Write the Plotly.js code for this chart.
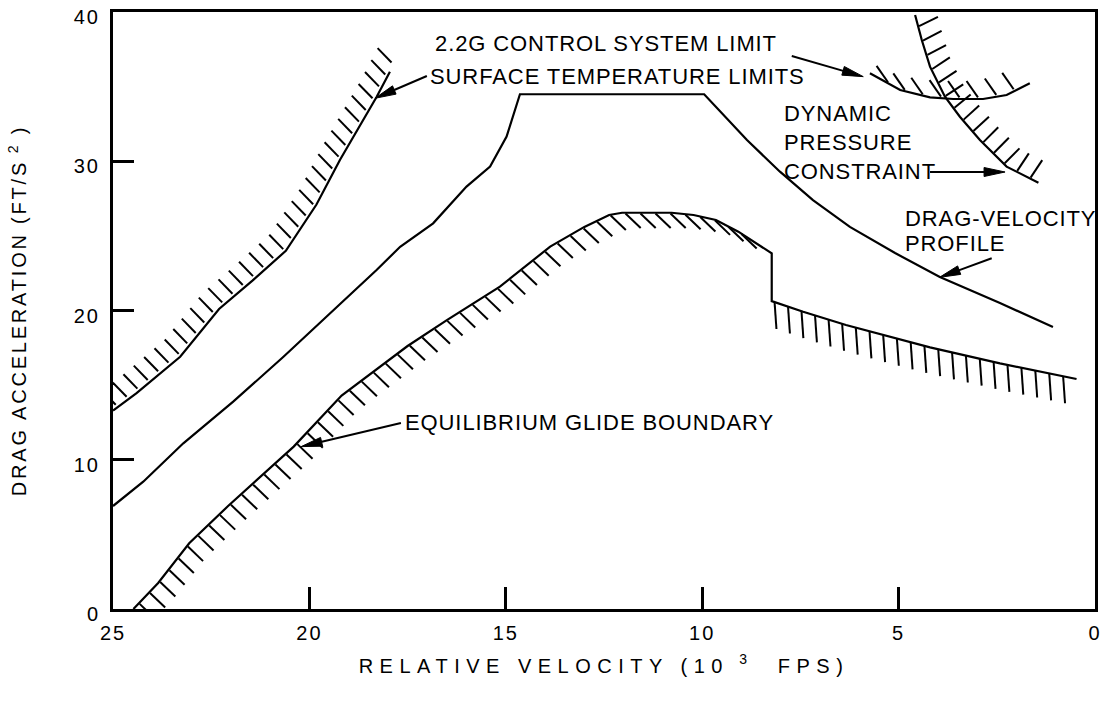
<!DOCTYPE html>
<html>
<head>
<meta charset="utf-8">
<script src="https://cdn.plot.ly/plotly-3.0.1.min.js"></script>
<style>
  html, body { margin: 0; padding: 0; background: #fff; }
  .annotation-text { letter-spacing: 0.9px; }
  .xtick text, .ytick text { letter-spacing: 2px; }
  .g-xtitle text { letter-spacing: 6.5px; }
  .g-ytitle text { letter-spacing: 2.8px; }
</style>
</head>
<body>
<div id="chart" style="width:1105px;height:708px;"></div>
<script>
// ---------------- data ----------------
// Surface temperature limits (hatched on upper-left side)
const tempX = [25.0, 24.4, 23.29, 22.3, 21.45, 20.6, 19.82, 19.22, 18.29, 17.95];
const tempY = [13.3, 14.46, 16.9, 20.1, 22.0, 24.0, 27.1, 30.1, 34.3, 36.0];

// Drag-velocity profile
const profileX = [25.0, 24.23, 23.21, 21.94, 20.66, 19.39, 18.29, 17.69, 16.85, 16.0, 15.4, 14.98, 14.77, 14.64, 9.95, 8.86, 8.02, 7.18, 6.24, 5.09, 3.95, 2.42, 1.07];
const profileY = [6.9, 8.53, 11.1, 13.89, 16.9, 20.03, 22.71, 24.27, 25.84, 28.3, 29.64, 31.65, 33.43, 34.49, 34.49, 31.42, 29.3, 27.4, 25.6, 23.85, 22.25, 20.5, 18.9];

// Equilibrium glide boundary: rising part (up to the step) and part after the step
const glide1X = [24.48, 23.85, 23.06, 22.07, 20.4, 19.18, 17.5, 16.5, 15.15, 13.87, 13.0, 12.37, 12.04, 10.78, 10.22, 9.65, 9.08, 8.23];
const glide1Y = [0.0, 1.74, 4.4, 6.9, 10.88, 14.3, 17.62, 19.36, 21.6, 24.28, 25.6, 26.4, 26.55, 26.55, 26.4, 26.06, 25.28, 23.83];
const glide2X = [8.23, 7.43, 6.34, 5.26, 4.2, 2.42, 0.47];
const glide2Y = [20.63, 19.92, 19.03, 18.25, 17.53, 16.46, 15.41];

// Dynamic pressure constraint
const dynX = [4.58, 4.41, 4.2, 3.82, 3.44, 2.93, 2.25, 1.44];
const dynY = [39.8, 38.12, 36.34, 34.33, 32.98, 31.42, 29.64, 28.56];

// 2.2G control system limit
const ctrlX = [5.73, 4.96, 4.2, 3.61, 2.85, 2.25, 1.66];
const ctrlY = [35.9, 34.77, 34.28, 34.17, 34.17, 34.44, 35.22];

// Callout arrows (tail -> tip)
const arrowTailX = [7.72, 17.01, 4.2, 2.63, 17.67];
const arrowTailY = [37.05, 35.71, 29.28, 23.5, 12.46];
const arrowTipX  = [5.9, 18.33, 2.29, 3.96, 20.21];
const arrowTipY  = [35.67, 34.22, 29.28, 22.22, 10.88];

// Callout labels (left edge x, centre y)
const labelText = ["2.2G CONTROL SYSTEM LIMIT", "SURFACE TEMPERATURE LIMITS", "DYNAMIC", "PRESSURE", "CONSTRAINT", "DRAG-VELOCITY", "PROFILE", "EQUILIBRIUM GLIDE BOUNDARY"];
const labelX = [16.85, 16.98, 7.98, 7.98, 7.98, 4.88, 4.88, 17.61];
const labelY = [37.92, 35.71, 33.17, 31.29, 29.34, 26.18, 24.5, 12.48];

// Axes
const xTickVals = [25, 20, 15, 10, 5, 0];
const xTickText = ["25", "20", "15", "10", "5", "0"];
const yTickVals = [0, 10, 20, 30, 40];
const yTickText = ["0", "10", "20", "30", "40"];
const xTitle = "RELATIVE VELOCITY (10<sup> 3</sup>  FPS)";
const yTitle = "DRAG ACCELERATION (FT/S<sup> 2</sup> )";

// ---------------- layout geometry ----------------
const W = 1105, H = 708;
const M = {l: 113, r: 10, t: 12, b: 99};
const xRange = [25, 0], yRange = [0, 40];
const pw = W - M.l - M.r, ph = H - M.t - M.b;
const toPx = x => (x - xRange[0]) / (xRange[1] - xRange[0]) * pw;
const toPy = y => (yRange[1] - y) / (yRange[1] - yRange[0]) * ph;
const fromPx = p => xRange[0] + p / pw * (xRange[1] - xRange[0]);
const fromPy = p => yRange[1] - p / ph * (yRange[1] - yRange[0]);
const norm = v => { const l = Math.hypot(v[0], v[1]); return [v[0] / l, v[1] / l]; };

// hatch ticks along a boundary curve (screen-space spacing / direction)
function hatch(xs, ys, o) {
  const P = xs.map((x, i) => [toPx(x), toPy(ys[i])]);
  const cum = [0];
  for (let i = 1; i < P.length; i++) cum.push(cum[i - 1] + Math.hypot(P[i][0] - P[i - 1][0], P[i][1] - P[i - 1][1]));
  const total = cum[cum.length - 1];
  const hx = [], hy = [];
  let i = 0;
  for (let s = o.start; s <= total - (o.end || 0); s += o.spacing) {
    while (i < P.length - 2 && cum[i + 1] < s) i++;
    const seg = cum[i + 1] - cum[i];
    const t = seg > 0 ? (s - cum[i]) / seg : 0;
    const p = [P[i][0] + t * (P[i + 1][0] - P[i][0]), P[i][1] + t * (P[i + 1][1] - P[i][1])];
    const tan = norm([P[i + 1][0] - P[i][0], P[i + 1][1] - P[i][1]]);
    const d = o.dir(tan);
    hx.push(fromPx(p[0] + o.gap * d[0]), fromPx(p[0] + (o.gap + o.len) * d[0]), null);
    hy.push(fromPy(p[1] + o.gap * d[1]), fromPy(p[1] + (o.gap + o.len) * d[1]), null);
  }
  return {x: hx, y: hy};
}

const hTemp = hatch(tempX, tempY, {start: 6, spacing: 13.5, len: 20, gap: 3, end: -8, dir: () => norm([-0.7, -0.72])});
const hGl1 = hatch(glide1X, glide1Y, {start: 8, spacing: 15, len: 21, gap: 1, end: 22, dir: () => norm([0.72, 0.69])});
const hGl2 = hatch(glide2X, glide2Y, {start: 3, spacing: 14.2, len: 27, gap: 0, end: 0, dir: () => norm([0.07, 1])});
const hDyn = hatch(dynX, dynY, {start: 12, spacing: 15, len: 21, gap: 1, end: 8, dir: t => norm([t[1] + 0.42, -t[0] - 0.42])});
const hCtrl = hatch(ctrlX, ctrlY, {start: 22, spacing: 18.5, len: 20, gap: 2, end: 4, dir: () => norm([-0.57, -0.82])});

// arrows: shafts and filled heads
const shaftX = [], shaftY = [], headX = [], headY = [];
const HL = 21, HW = 9;
for (let k = 0; k < arrowTipX.length; k++) {
  const a = [toPx(arrowTailX[k]), toPy(arrowTailY[k])];
  const b = [toPx(arrowTipX[k]), toPy(arrowTipY[k])];
  const u = norm([b[0] - a[0], b[1] - a[1]]);
  const n = [-u[1], u[0]];
  const base = [b[0] - HL * u[0], b[1] - HL * u[1]];
  shaftX.push(arrowTailX[k], fromPx(base[0] + 2 * u[0]), null);
  shaftY.push(arrowTailY[k], fromPy(base[1] + 2 * u[1]), null);
  headX.push(fromPx(b[0]), fromPx(base[0] + HW / 2 * n[0]), fromPx(base[0] - HW / 2 * n[0]), fromPx(b[0]), null);
  headY.push(fromPy(b[1]), fromPy(base[1] + HW / 2 * n[1]), fromPy(base[1] - HW / 2 * n[1]), fromPy(b[1]), null);
}

const lineStyle = {color: '#000', width: 2.2};
const hatchStyle = {color: '#000', width: 2};
const traces = [
  {x: tempX, y: tempY, mode: 'lines', line: lineStyle},
  {x: hTemp.x, y: hTemp.y, mode: 'lines', line: hatchStyle, connectgaps: false},
  {x: profileX, y: profileY, mode: 'lines', line: lineStyle},
  {x: glide1X.concat(glide2X), y: glide1Y.concat(glide2Y), mode: 'lines', line: lineStyle},
  {x: hGl1.x, y: hGl1.y, mode: 'lines', line: hatchStyle, connectgaps: false},
  {x: hGl2.x, y: hGl2.y, mode: 'lines', line: hatchStyle, connectgaps: false},
  {x: dynX, y: dynY, mode: 'lines', line: lineStyle},
  {x: hDyn.x, y: hDyn.y, mode: 'lines', line: hatchStyle, connectgaps: false},
  {x: ctrlX, y: ctrlY, mode: 'lines', line: lineStyle},
  {x: hCtrl.x, y: hCtrl.y, mode: 'lines', line: hatchStyle, connectgaps: false},
  {x: shaftX, y: shaftY, mode: 'lines', line: {color: '#000', width: 2}, connectgaps: false},
  {x: headX, y: headY, mode: 'lines', fill: 'toself', fillcolor: '#000', line: {color: '#000', width: 1}, connectgaps: false}
].map(t => Object.assign({hoverinfo: 'skip', showlegend: false, cliponaxis: true}, t));

const font = 'Liberation Sans, Arial, Helvetica, sans-serif';
const annotations = labelText.map((t, i) => ({
  x: labelX[i], y: labelY[i], xref: 'x', yref: 'y', text: t, showarrow: false,
  xanchor: 'left', yanchor: 'middle', font: {family: font, size: 22, color: '#000'}
}));

const layout = {
  width: W, height: H,
  margin: M,
  paper_bgcolor: '#fff', plot_bgcolor: '#fff',
  showlegend: false,
  font: {family: font, color: '#000'},
  xaxis: {
    range: xRange, autorange: false, fixedrange: true,
    tickvals: xTickVals, ticktext: xTickText,
    ticks: 'inside', ticklen: 22, tickwidth: 3, tickcolor: '#000',
    showline: true, linewidth: 3, linecolor: '#000', mirror: true,
    showgrid: false, zeroline: false,
    ticklabelstandoff: 4,
    tickfont: {family: font, size: 20, color: '#000'},
    title: {text: xTitle, font: {family: font, size: 20, color: '#000'}, standoff: 16}
  },
  yaxis: {
    range: yRange, autorange: false, fixedrange: true,
    tickvals: yTickVals, ticktext: yTickText,
    ticks: 'inside', ticklen: 21, tickwidth: 3, tickcolor: '#000',
    showline: true, linewidth: 3, linecolor: '#000', mirror: true,
    showgrid: false, zeroline: false,
    ticklabelshift: 5, ticklabelstandoff: 6,
    tickfont: {family: font, size: 20, color: '#000'},
    title: {text: yTitle, font: {family: font, size: 20, color: '#000'}, standoff: 42}
  },
  annotations: annotations
};

Plotly.newPlot('chart', traces, layout, {staticPlot: true, displayModeBar: false});
</script>
</body>
</html>
